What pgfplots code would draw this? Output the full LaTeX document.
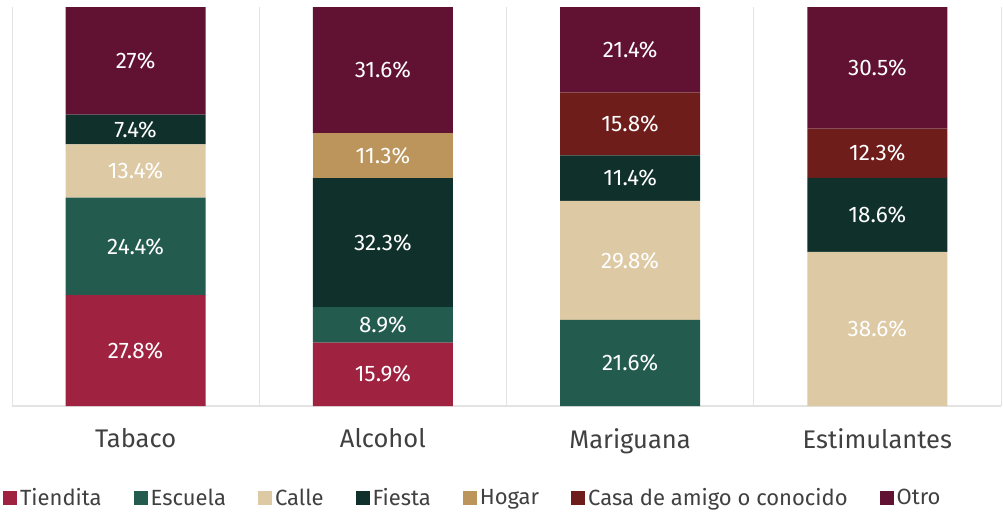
\documentclass[border=0pt]{standalone}
\usepackage{pgfplots}
\pgfplotsset{compat=1.18}
\usepackage{fontspec}
\setmainfont{Fira Sans}
\definecolor{cTiendita}{HTML}{9F2241}
\definecolor{cEscuela}{HTML}{235B4E}
\definecolor{cCalle}{HTML}{DDC9A3}
\definecolor{cFiesta}{HTML}{10312B}
\definecolor{cHogar}{HTML}{BC955C}
\definecolor{cCasa}{HTML}{6F1D1B}
\definecolor{cOtro}{HTML}{611232}
\definecolor{txt}{HTML}{404040}
\definecolor{gridc}{HTML}{E3E3E3}
\begin{document}
\begin{tikzpicture}
\begin{axis}[
  at={(0,0)}, anchor=south west,
  scale only axis, width=989pt, height=399pt,
  ybar stacked, bar width=140pt,
  xmin=-0.5, xmax=3.5, ymin=0, ymax=100,
  axis y line=none,
  axis x line*=bottom,
  x axis line style={gridc, line width=1.2pt},
  xtick={0,1,2,3}, xticklabels={Tabaco,Alcohol,Mariguana,Estimulantes},
  major tick length=0pt,
  minor xtick={-0.5,0.5,1.5,2.5,3.5},
  minor tick length=0pt,
  xminorgrids, minor grid style={gridc, line width=1pt},
  x tick label style={font=\fontsize{25.5}{27}\selectfont, text=txt, yshift=-19pt},
  /pgf/number format/assume math mode=true,
  point meta=rawy,
  nodes near coords={\pgfmathfloatifflags{\pgfplotspointmeta}{0}{}{\pgfmathprintnumber[fixed,precision=1,assume math mode=true]{\pgfplotspointmeta}\%}},
  every node near coord/.append style={font=\fontsize{22.5}{24}\selectfont, text=white, anchor=center},
  legend columns=7,
  legend style={draw=none, at={(-0.009,-0.2306)}, anchor=west, font=\fontsize{22}{24}\selectfont, text=txt,
    /tikz/every odd column/.append style={column sep=1pt},
    /tikz/every even column/.append style={column sep=30pt}, inner sep=0pt, outer sep=0pt,
    nodes={inner sep=2pt}},
  legend image code/.code={\fill[#1] (0pt,-7pt) rectangle (14pt,7pt);},
]
\addplot[fill=cTiendita, draw=none] coordinates {(0,27.8) (1,15.9) (2,0) (3,0)};
\addplot[fill=cEscuela, draw=none] coordinates {(0,24.4) (1,8.9) (2,21.6) (3,0)};
\addplot[fill=cCalle, draw=none] coordinates {(0,13.4) (1,0) (2,29.8) (3,38.6)};
\addplot[fill=cFiesta, draw=none] coordinates {(0,7.4) (1,32.3) (2,11.4) (3,18.6)};
\addplot[fill=cHogar, draw=none] coordinates {(0,0) (1,11.3) (2,0) (3,0)};
\addplot[fill=cCasa, draw=none] coordinates {(0,0) (1,0) (2,15.8) (3,12.3)};
\addplot[fill=cOtro, draw=none] coordinates {(0,27) (1,31.6) (2,21.4) (3,30.5)};
\legend{Tiendita,Escuela,Calle,Fiesta,Hogar,Casa de amigo o conocido,Otro}
\end{axis}
\pgfresetboundingbox
\path (-12pt,-106pt) rectangle (991pt,406pt);
\end{tikzpicture}
\end{document}
